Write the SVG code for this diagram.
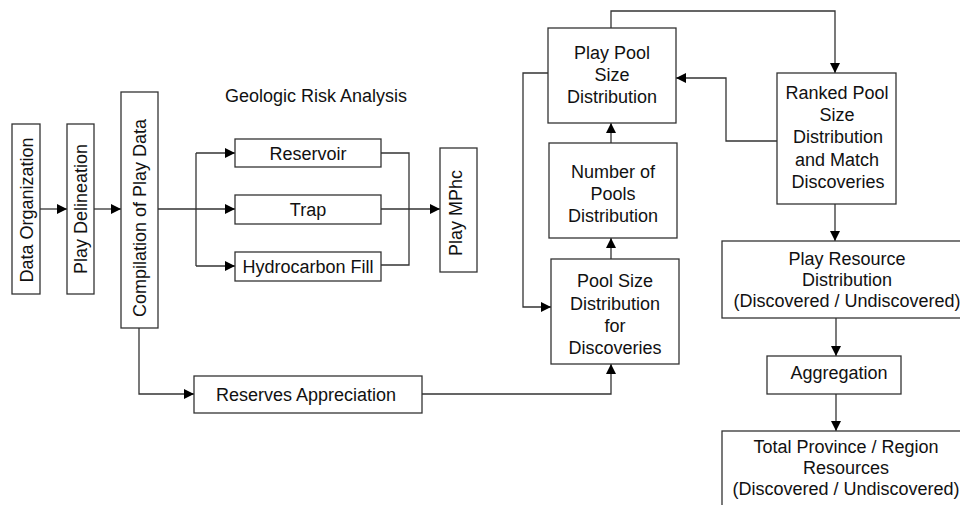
<svg xmlns="http://www.w3.org/2000/svg" width="960" height="505" viewBox="0 0 960 505">
<defs>
<marker id="ah" viewBox="0 0 10 10" refX="10" refY="5" markerWidth="10" markerHeight="10" markerUnits="userSpaceOnUse" orient="auto">
<path d="M0,0 L10,5 L0,10 Z" fill="#000"/>
</marker>
<style>
.box{fill:#fff;stroke:#333;stroke-width:1.3}
.t{font-family:"Liberation Sans",Arial,sans-serif;font-size:18px;fill:#111;text-anchor:middle}
.c{fill:none;stroke:#333;stroke-width:1.3}
.a{marker-end:url(#ah)}
</style>
</defs>
<rect width="960" height="505" fill="#fff"/>
<g id="connectors">
<path class="c a" d="M40,209 H67"/>
<path class="c a" d="M94,209 H121"/>
<path class="c a" d="M158,209 H235"/>
<path class="c" d="M196,153 V266"/>
<path class="c a" d="M196,153 H235"/>
<path class="c a" d="M196,266 H235"/>
<path class="c" d="M381,153 H409 V265 H381"/>
<path class="c a" d="M381,209 H440"/>
<path class="c a" d="M139,328 V394 H194"/>
<path class="c a" d="M422,394 H611 V364"/>
<path class="c a" d="M611,259 V238"/>
<path class="c a" d="M611,143 V123"/>
<path class="c a" d="M548,73 H523 V307 H551"/>
<path class="c a" d="M611,28 V11 H835 V73"/>
<path class="c a" d="M777,141 H726 V78 H676"/>
<path class="c a" d="M835,204 V241"/>
<path class="c a" d="M836,318 V356"/>
<path class="c a" d="M836,394 V431"/>
</g>
<g id="title"><text class="t" x="316" y="102">Geologic Risk Analysis</text></g>
<g id="data-organization"><rect class="box" x="12" y="124" width="28" height="170"/><text class="t" transform="translate(32.5,210) rotate(-90)">Data Organization</text></g>
<g id="play-delineation"><rect class="box" x="67" y="124" width="27" height="170"/><text class="t" transform="translate(87,209) rotate(-90)">Play Delineation</text></g>
<g id="compilation"><rect class="box" x="121" y="92" width="37" height="236"/><text class="t" transform="translate(146,218) rotate(-90)">Compilation of Play Data</text></g>
<g id="reservoir"><rect class="box" x="235" y="139" width="146" height="28"/><text class="t" x="308" y="160">Reservoir</text></g>
<g id="trap"><rect class="box" x="235" y="195" width="146" height="29"/><text class="t" x="308" y="216">Trap</text></g>
<g id="hydrocarbon-fill"><rect class="box" x="235" y="252" width="146" height="29"/><text class="t" x="308" y="273">Hydrocarbon Fill</text></g>
<g id="play-mphc"><rect class="box" x="440" y="148" width="37" height="124"/><text class="t" transform="translate(462,213) rotate(-90)">Play MPhc</text></g>
<g id="reserves-appreciation"><rect class="box" x="194" y="376" width="228" height="37"/><text class="t" x="306" y="401">Reserves Appreciation</text></g>
<g id="play-pool-size"><rect class="box" x="548" y="28" width="128" height="95"/><text class="t" x="612" y="59">Play Pool</text><text class="t" x="612" y="81">Size</text><text class="t" x="612" y="103">Distribution</text></g>
<g id="number-of-pools"><rect class="box" x="549" y="143" width="128" height="95"/><text class="t" x="613" y="178">Number of</text><text class="t" x="613" y="200">Pools</text><text class="t" x="613" y="222">Distribution</text></g>
<g id="pool-size-discoveries"><rect class="box" x="551" y="259" width="128" height="105"/><text class="t" x="615" y="287">Pool Size</text><text class="t" x="615" y="310">Distribution</text><text class="t" x="615" y="332">for</text><text class="t" x="615" y="354">Discoveries</text></g>
<g id="ranked-pool"><rect class="box" x="777" y="73" width="119" height="131"/><text class="t" x="837" y="99">Ranked Pool</text><text class="t" x="837" y="121">Size</text><text class="t" x="838" y="143">Distribution</text><text class="t" x="837" y="166">and Match</text><text class="t" x="838" y="188">Discoveries</text></g>
<g id="play-resource"><rect class="box" x="722" y="241" width="250" height="77"/><text class="t" x="847" y="265">Play Resource</text><text class="t" x="847" y="286">Distribution</text><text class="t" x="847" y="307">(Discovered / Undiscovered)</text></g>
<g id="aggregation"><rect class="box" x="767" y="356" width="134" height="38"/><text class="t" x="839" y="379">Aggregation</text></g>
<g id="total-province"><rect class="box" x="722" y="431" width="250" height="90"/><text class="t" x="846" y="453">Total Province / Region</text><text class="t" x="846" y="474">Resources</text><text class="t" x="846" y="495">(Discovered / Undiscovered)</text></g>
</svg>
